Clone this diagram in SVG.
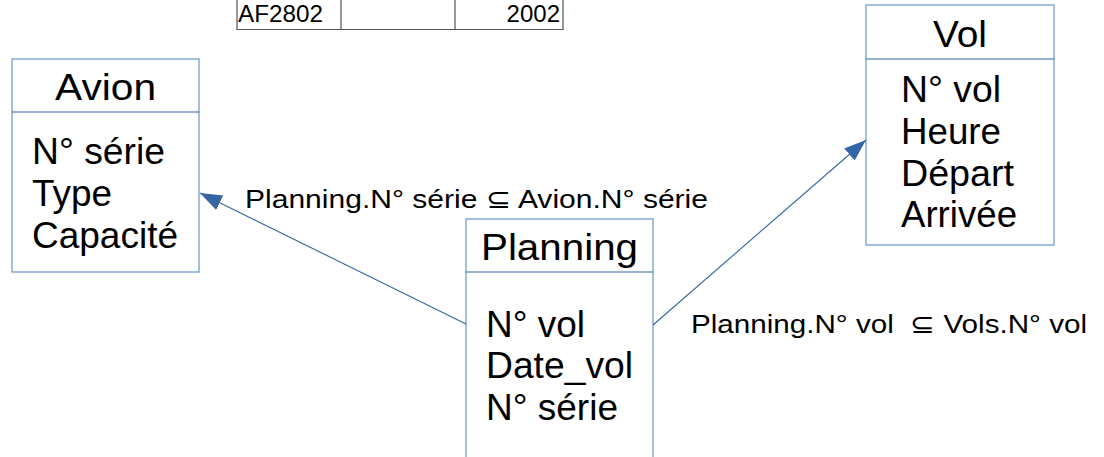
<svg xmlns="http://www.w3.org/2000/svg" width="1104" height="457" viewBox="0 0 1104 457">
  <style>
    .box { fill: #ffffff; stroke: #729fcf; stroke-width: 1.3; }
    .div { stroke: #3465a4; stroke-width: 1.2; }
    .t { font-family: "Liberation Sans", Arial, sans-serif; fill: #000000; }
    .big { font-size: 37px; }
    .lbl { font-size: 26px; }
    .cell { font-size: 24px; }
    .grid { fill: none; stroke: #555555; stroke-width: 1.2; }
    .conn { stroke: #3465a4; stroke-width: 1.1; fill: none; }
  </style>
  <defs>
    <marker id="head" markerUnits="userSpaceOnUse" markerWidth="24" markerHeight="18" refX="22" refY="8" orient="auto">
      <path d="M0,0 L22,8 L0,16 Z" fill="#3465a4"/>
    </marker>
  </defs>

  <!-- table row fragment -->
  <g id="table-row">
    <path class="grid" d="M237,0 V29.5 H563 V0 M341,0 V29.5 M455,0 V29.5"/>
    <text class="t cell" x="238" y="22" textLength="85" lengthAdjust="spacingAndGlyphs">AF2802</text>
    <text class="t cell" x="560" y="22" text-anchor="end">2002</text>
  </g>

  <!-- Avion entity -->
  <g id="avion">
    <rect class="box" x="12" y="59" width="187" height="213"/>
    <line class="div" x1="12" y1="112" x2="199" y2="112"/>
    <text class="t big" x="55" y="100" textLength="101" lengthAdjust="spacingAndGlyphs">Avion</text>
    <text class="t big" x="32" y="164" textLength="133" lengthAdjust="spacingAndGlyphs">N° série</text>
    <text class="t big" x="32" y="206" textLength="80" lengthAdjust="spacingAndGlyphs">Type</text>
    <text class="t big" x="32" y="248" textLength="146" lengthAdjust="spacingAndGlyphs">Capacité</text>
  </g>

  <!-- Vol entity -->
  <g id="vol">
    <rect class="box" x="866" y="5" width="188" height="240"/>
    <line class="div" x1="866" y1="59" x2="1054" y2="59"/>
    <text class="t big" x="933" y="47" textLength="54" lengthAdjust="spacingAndGlyphs">Vol</text>
    <text class="t big" x="901" y="102" textLength="100" lengthAdjust="spacingAndGlyphs">N° vol</text>
    <text class="t big" x="901" y="144" textLength="100" lengthAdjust="spacingAndGlyphs">Heure</text>
    <text class="t big" x="901" y="186" textLength="113" lengthAdjust="spacingAndGlyphs">Départ</text>
    <text class="t big" x="901" y="227" textLength="116" lengthAdjust="spacingAndGlyphs">Arrivée</text>
  </g>

  <!-- Planning entity -->
  <g id="planning">
    <rect class="box" x="466" y="219" width="187" height="260"/>
    <line class="div" x1="466" y1="272" x2="653" y2="272"/>
    <text class="t big" x="481" y="260" textLength="157" lengthAdjust="spacingAndGlyphs">Planning</text>
    <text class="t big" x="486" y="337" textLength="99" lengthAdjust="spacingAndGlyphs">N° vol</text>
    <text class="t big" x="486" y="378" textLength="147" lengthAdjust="spacingAndGlyphs">Date_vol</text>
    <text class="t big" x="486" y="420" textLength="132" lengthAdjust="spacingAndGlyphs">N° série</text>
  </g>

  <!-- foreign-key connectors -->
  <g id="connectors">
    <line class="conn" x1="466" y1="324" x2="200" y2="193" marker-end="url(#head)"/>
    <line class="conn" x1="653" y1="325" x2="866" y2="140" marker-end="url(#head)"/>
    <text class="t lbl" x="245" y="208" textLength="463" lengthAdjust="spacingAndGlyphs">Planning.N° série ⊆ Avion.N° série</text>
    <text class="t lbl" x="691" y="333" textLength="396" lengthAdjust="spacingAndGlyphs" xml:space="preserve">Planning.N° vol  ⊆ Vols.N° vol</text>
  </g>
</svg>
